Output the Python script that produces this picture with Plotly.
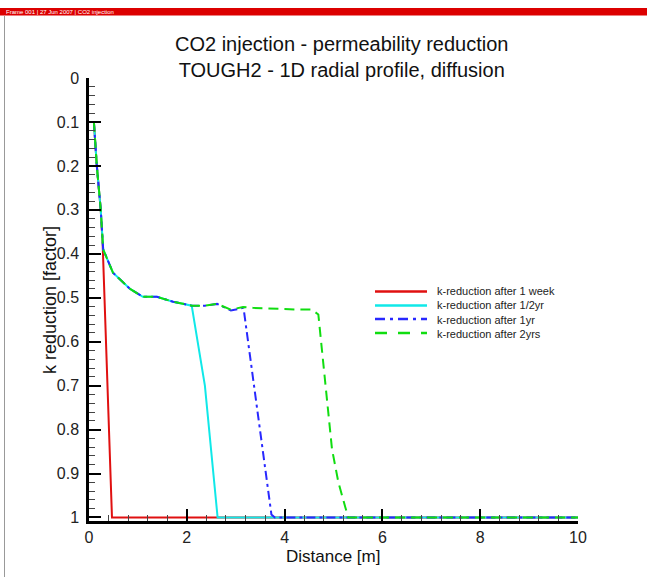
import plotly.graph_objects as go

# ---- data ----
week_x = [0.1, 0.16, 0.24, 0.28, 0.47, 1.0, 2.0, 4.0, 6.0, 8.0, 10.0]
week_y = [0.1, 0.2, 0.3, 0.38, 1.0, 1.0, 1.0, 1.0, 1.0, 1.0, 1.0]

half_x = [0.1, 0.16, 0.24, 0.29, 0.49, 0.84, 1.1, 1.39, 1.72, 2.1, 2.37, 2.63, 4.0, 6.0, 8.0, 10.0]
half_y = [0.1, 0.2, 0.3, 0.39, 0.443, 0.48, 0.498, 0.498, 0.509, 0.518, 0.70, 1.0, 1.0, 1.0, 1.0, 1.0]

one_x = [0.1, 0.16, 0.24, 0.29, 0.49, 0.84, 1.1, 1.39, 1.72, 2.1, 2.37, 2.62, 2.9, 3.16, 3.73, 3.8, 6.0, 8.0, 10.0]
one_y = [0.1, 0.2, 0.3, 0.39, 0.443, 0.48, 0.498, 0.498, 0.509, 0.518, 0.518, 0.514, 0.529, 0.523, 0.993, 1.0, 1.0, 1.0, 1.0]

two_x = [0.1, 0.16, 0.24, 0.29, 0.49, 0.84, 1.1, 1.39, 1.72, 2.1, 2.37, 2.62, 2.9, 3.15, 3.35, 3.76, 4.3, 4.55, 4.69, 4.97, 5.1, 5.3, 6.0, 8.0, 10.0]
two_y = [0.1, 0.2, 0.3, 0.39, 0.443, 0.48, 0.498, 0.498, 0.509, 0.518, 0.518, 0.514, 0.527, 0.521, 0.523, 0.525, 0.527, 0.527, 0.538, 0.845, 0.92, 1.0, 1.0, 1.0, 1.0]

names = ["k-reduction after 1 week", "k-reduction after 1/2yr",
         "k-reduction after 1yr", "k-reduction after 2yrs"]
colors = ["#e01010", "#10e8e8", "#2828ff", "#10dd10"]
dashes = ["solid", "solid", "9px,4px,3px,4px", "10px,6px"]
legend_dashes = ["solid", "solid", "10px,5px,3px,5px", "12px,11px"]

x_ticks = [0, 2, 4, 6, 8, 10]
y_ticks = [0, 0.1, 0.2, 0.3, 0.4, 0.5, 0.6, 0.7, 0.8, 0.9, 1]
y_ticktext = ["0", "0.1", "0.2", "0.3", "0.4", "0.5", "0.6", "0.7", "0.8", "0.9", "1"]

fig = go.Figure()
for xs, ys, nm, c, d in zip([week_x, half_x, one_x, two_x], [week_y, half_y, one_y, two_y],
                            names, colors, dashes):
    fig.add_trace(go.Scatter(x=xs, y=ys, mode="lines", name=nm, showlegend=False,
                             line=dict(color=c, width=2, dash=d)))

W, H = 647, 577
L, R, T, B = 89, 69, 78, 56

def px(xp):
    return (xp - L) / (W - L - R)

def py(yp):
    return (H - B - yp) / (H - T - B)

fig.update_layout(
    width=W, height=H,
    margin=dict(l=L, r=R, t=T, b=B, pad=0),
    paper_bgcolor="white", plot_bgcolor="white",
    font=dict(family="Liberation Sans, Arial, sans-serif", color="#222"),
    showlegend=False,
    xaxis=dict(range=[0, 10], tickvals=x_ticks, ticktext=[str(v) for v in x_ticks],
               showgrid=False, zeroline=False, showline=True, linecolor="black",
               linewidth=2.5, ticks="inside", ticklen=12, tickwidth=2, tickcolor="black",
               tickfont=dict(size=16, color="#222"), ticklabelstandoff=0,
               minor=dict(dtick=0.4, tick0=0, ticks="inside", ticklen=6,
                          tickwidth=1, tickcolor="#444")),
    yaxis=dict(range=[1.008, 0], tickvals=y_ticks, ticktext=y_ticktext,
               showgrid=False, zeroline=False, showline=True, linecolor="black",
               linewidth=2.5, ticks="inside", ticklen=12, tickwidth=2, tickcolor="black",
               tickfont=dict(size=16, color="#222"), ticklabelstandoff=4,
               minor=dict(dtick=0.02, tick0=0, ticks="inside", ticklen=6,
                          tickwidth=1, tickcolor="#444")),
)

# header bar and frame
fig.add_shape(type="rect", xref="paper", yref="paper",
              x0=px(0), x1=px(W), y0=py(15.5), y1=py(8),
              fillcolor="#dc0000", line=dict(width=0), layer="above")
fig.add_shape(type="line", xref="paper", yref="paper",
              x0=px(4.5), x1=px(4.5), y0=py(16), y1=py(H),
              line=dict(color="#999", width=1))
fig.add_annotation(xref="paper", yref="paper", x=px(4), y=py(12), xanchor="left",
                   yanchor="middle", showarrow=False,
                   text="Frame 001 | 27 Jun 2007 | CO2 injection",
                   font=dict(size=6, color="white"))

# manual legend (compact rows like the reference)
leg_rows = [291.5, 305.5, 319.0, 333.0]
for yr, c, d in zip(leg_rows, colors, legend_dashes):
    fig.add_shape(type="line", xref="paper", yref="paper",
                  x0=px(375), x1=px(427), y0=py(yr), y1=py(yr),
                  line=dict(color=c, width=2.5, dash=d))
fig.add_annotation(xref="paper", yref="paper", x=px(435), y=py(312.5), xanchor="left",
                   yanchor="middle", align="left", showarrow=False,
                   text="<br>".join(names), font=dict(size=11, color="#222"))

# titles
fig.add_annotation(xref="paper", yref="paper", x=px(342), y=py(57.5), xanchor="center",
                   yanchor="middle", showarrow=False,
                   text="CO2 injection - permeability reduction<br>TOUGH2 - 1D radial profile, diffusion",
                   font=dict(size=20, color="#111"))
fig.add_annotation(xref="paper", yref="paper", x=px(333), y=py(556), xanchor="center",
                   yanchor="middle", showarrow=False, text="Distance [m]",
                   font=dict(size=17, color="#111"))
fig.add_annotation(xref="paper", yref="paper", x=px(50), y=py(300), xanchor="center",
                   yanchor="middle", showarrow=False, text="k reduction [factor]",
                   textangle=-90, font=dict(size=18, color="#111"))

fig.write_html("out.html", config={"displayModeBar": False})
